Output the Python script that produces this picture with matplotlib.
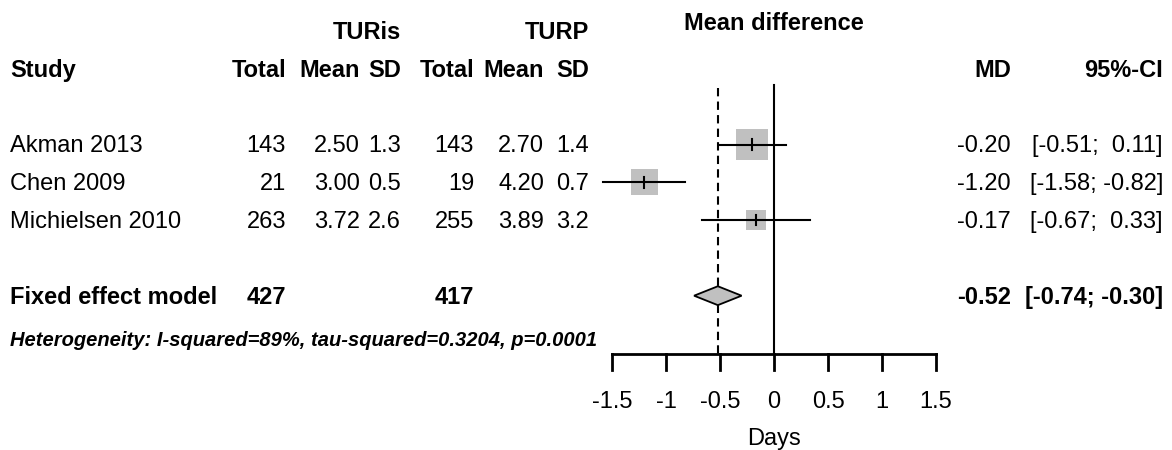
import matplotlib.pyplot as plt
from matplotlib import transforms
from matplotlib.patches import Polygon, Rectangle

plt.rcParams['font.family'] = ['Liberation Sans', 'DejaVu Sans']

studies = ["Akman 2013", "Chen 2009", "Michielsen 2010"]
n_turis = [143, 21, 263]
mean_turis = [2.50, 3.00, 3.72]
sd_turis = [1.3, 0.5, 2.6]
n_turp = [143, 19, 255]
mean_turp = [2.70, 4.20, 3.89]
sd_turp = [1.4, 0.7, 3.2]
md = [-0.20, -1.20, -0.17]
ci_low = [-0.51, -1.58, -0.67]
ci_high = [0.11, -0.82, 0.33]
fixed_md = -0.52
fixed_low = -0.74
fixed_high = -0.30
het_text = "Heterogeneity: I-squared=89%, tau-squared=0.3204, p=0.0001"
x_ticks = [-1.5, -1, -0.5, 0, 0.5, 1, 1.5]
x_tick_labels = ["-1.5", "-1", "-0.5", "0", "0.5", "1", "1.5"]

# layout (pixels of the 1172x450 picture)
W, H = 1172, 450
ZERO_PX, UNIT_PX = 774, 108
ROW1_PX, ROW_PX = 144.5, 37.8
FS = 17
GRAY = "#c0c0c0"

fig = plt.figure(figsize=(W / 100, H / 100), dpi=100)
ax = fig.add_axes([0, 0, 1, 1])
ax.axis("off")
ax.set_xlim(-ZERO_PX / UNIT_PX, (W - ZERO_PX) / UNIT_PX)
ax.set_ylim(1 + (H - ROW1_PX) / ROW_PX, 1 - ROW1_PX / ROW_PX)

tr = transforms.blended_transform_factory(ax.transAxes, ax.transData)
BASE = 0.21  # half cap height in rows


def put(px, row, s, ha="right", **kw):
    ax.text(px / W, row + BASE, s, transform=tr, ha=ha, va="baseline",
            fontsize=kw.pop("fontsize", FS), **kw)


# column right edges
c_tot1, c_mean1, c_sd1 = 286, 360, 401
c_tot2, c_mean2, c_sd2 = 474, 544, 589
c_md, c_ci = 1011, 1163

# headers
put(c_sd1, -2, "TURis", fontweight="bold")
put(c_sd2, -2, "TURP", fontweight="bold")
ax.text(0, -2.25 + BASE, "Mean difference", ha="center", va="baseline",
        fontsize=FS, fontweight="bold")
put(10, -1, "Study", ha="left", fontweight="bold")
for px, s in [(c_tot1, "Total"), (c_mean1, "Mean"), (c_sd1, "SD"),
              (c_tot2, "Total"), (c_mean2, "Mean"), (c_sd2, "SD"),
              (c_md, "MD"), (c_ci, "95%-CI")]:
    put(px, -1, s, fontweight="bold")

# study rows
weights = []
for i, name in enumerate(studies):
    row = i + 1
    put(10, row, name, ha="left")
    put(c_tot1, row, f"{n_turis[i]}")
    put(c_mean1, row, f"{mean_turis[i]:.2f}")
    put(c_sd1, row, f"{sd_turis[i]:.1f}")
    put(c_tot2, row, f"{n_turp[i]}")
    put(c_mean2, row, f"{mean_turp[i]:.2f}")
    put(c_sd2, row, f"{sd_turp[i]:.1f}")
    put(c_md, row, f"{md[i]:.2f}")
    put(c_ci, row, f"[{ci_low[i]:5.2f}; {ci_high[i]:5.2f}]")
    weights.append(1 / (sd_turis[i] ** 2 / n_turis[i] + sd_turp[i] ** 2 / n_turp[i]))

# fixed effect row
put(10, 5, "Fixed effect model", ha="left", fontweight="bold")
put(c_tot1, 5, f"{sum(n_turis)}", fontweight="bold")
put(c_tot2, 5, f"{sum(n_turp)}", fontweight="bold")
put(c_md, 5, f"{fixed_md:.2f}", fontweight="bold")
put(c_ci, 5, f"[{fixed_low:5.2f}; {fixed_high:5.2f}]", fontweight="bold")
put(10, 6.12, het_text, ha="left", fontsize=14.5, fontweight="bold", style="italic")

# reference lines
ax.plot([0, 0], [-0.57, 6.54], color="black", lw=1.5, zorder=1)
ax.plot([fixed_md, fixed_md], [-0.5, 6.54], color="black", lw=1.5,
        dashes=(4, 2.5), zorder=1)

# squares and CIs
for i in range(len(studies)):
    row = i + 1
    side = 5.1 * weights[i] ** 0.5
    w = side / UNIT_PX
    h = side / ROW_PX
    ax.add_patch(Rectangle((md[i] - w / 2, row - h / 2), w, h,
                           facecolor=GRAY, edgecolor="none", zorder=2))
    ax.plot([ci_low[i], ci_high[i]], [row, row], color="black", lw=1.5, zorder=3)
    ax.plot([md[i], md[i]], [row - 0.14, row + 0.14], color="black", lw=1.5, zorder=3)

# diamond
ax.add_patch(Polygon([(fixed_low, 5), (fixed_md, 4.75), (fixed_high, 5),
                      (fixed_md, 5.25)], closed=True, facecolor=GRAY,
                     edgecolor="black", lw=1.3, zorder=3))

# x axis
ax.plot([x_ticks[0], x_ticks[-1]], [6.54, 6.54], color="black", lw=2)
for t, lab in zip(x_ticks, x_tick_labels):
    ax.plot([t, t], [6.54, 6.96], color="black", lw=2)
    ax.text(t, 7.76 + BASE, lab, ha="center", va="baseline", fontsize=FS)
ax.text(0, 8.74 + BASE, "Days", ha="center", va="baseline", fontsize=FS)

fig.savefig("out.png", dpi=100)
